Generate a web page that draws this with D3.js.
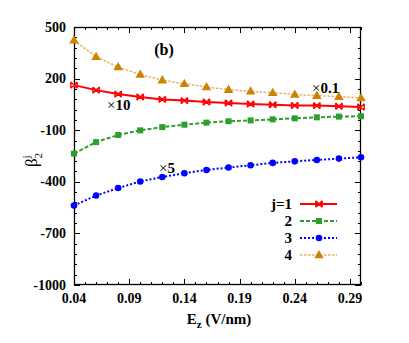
<!DOCTYPE html>
<html><head><meta charset="utf-8">
<script src="https://cdn.jsdelivr.net/npm/d3@7"></script>
<style>body{margin:0;background:#fff}svg{display:block}svg text{font-family:"Liberation Serif","DejaVu Serif",serif}</style>
</head><body>
<svg id="c" width="409" height="343"></svg>
<script>
const ezValues = [0.04,0.06,0.08,0.10,0.12,0.14,0.16,0.18,0.20,0.22,0.24,0.26,0.28,0.30];
const seriesJ1 = [162,133,110,93,79,72,64,58,52,48,44,43,39,35];
const seriesJ2 = [-236,-169,-128,-101,-82,-68,-56,-48,-43,-37,-31,-25,-21,-19];
const seriesJ3 = [-538,-480,-436,-398,-372,-350,-331,-317,-304,-290,-281,-273,-265,-257];
const seriesJ4 = [423,327,267,224,191,170,151,136,126,118,107,101,95,87];
const xTicks = [0.04,0.09,0.14,0.19,0.24,0.29];
const yTicks = [500,200,-100,-400,-700,-1000];
const legendLabels = ["j=1","2","3","4"];

const svg = d3.select("#c");
const L=74,R=361,T=27,B=285;
const x = d3.scaleLinear().domain([0.04,0.30]).range([L,R]);
const y = d3.scaleLinear().domain([-1000,500]).range([B,T]);

// ticks
const xMinor = d3.range(0.04,0.3001,0.01);
const yMinor = d3.range(-1000,500.1,60);
const g = svg.append("g").attr("stroke","#000").attr("stroke-width",1);
xMinor.forEach(v=>{
  const major = xTicks.some(t=>Math.abs(t-v)<1e-6);
  const len = major?6:3;
  const px = Math.round(x(v))+0.5;
  g.append("line").attr("x1",px).attr("x2",px).attr("y1",B).attr("y2",B-len);
  g.append("line").attr("x1",px).attr("x2",px).attr("y1",T).attr("y2",T+len);
});
yMinor.forEach(v=>{
  const major = yTicks.some(t=>Math.abs(t-v)<1e-6);
  const len = major?6:3;
  const py = Math.round(y(v))+0.5;
  g.append("line").attr("x1",L).attr("x2",L+len).attr("y1",py).attr("y2",py);
  g.append("line").attr("x1",R).attr("x2",R-len).attr("y1",py).attr("y2",py);
});
svg.append("rect").attr("x",L+0.5).attr("y",T+0.5).attr("width",R-L-1).attr("height",B-T-1)
  .attr("fill","none").attr("stroke","#000").attr("stroke-width",1.3);

// tick labels
svg.append("g").selectAll("text").data(xTicks).join("text")
  .attr("x",d=>x(d)).attr("y",B+18).attr("text-anchor","middle")
  .attr("font-weight","bold").attr("font-size",14).text(d=>d.toFixed(2));
svg.append("g").selectAll("text").data(yTicks).join("text")
  .attr("x",L-8).attr("y",d=>y(d)+4.5).attr("text-anchor","end")
  .attr("font-weight","bold").attr("font-size",14).text(d=>d);

// axis labels
const xl = svg.append("text").attr("x",219).attr("y",324).attr("text-anchor","middle")
  .attr("font-weight","bold").attr("font-size",15);
xl.append("tspan").text("E");
xl.append("tspan").attr("font-size",11).attr("dy",4).text("z");
xl.append("tspan").attr("dy",-4).text(" (V/nm)");
const yl = svg.append("text").attr("transform","translate(37,160) rotate(-90)").attr("text-anchor","middle")
  .attr("font-size",17);
yl.append("tspan").text("β");
yl.append("tspan").attr("font-size",11).attr("dy",-7).text("j");
yl.append("tspan").attr("font-size",11).attr("dx",-3).attr("dy",12).text("2");

// series
const series = [
  {vals:seriesJ1,color:"#ff0000",mcolor:"#ff0000",dash:null,w:2,marker:"x"},
  {vals:seriesJ2,color:"#2ca02c",mcolor:"#2ca02c",dash:"4,2",w:2,marker:"square"},
  {vals:seriesJ3,color:"#0000ff",mcolor:"#0000ff",dash:"2,2",w:2,marker:"circle"},
  {vals:seriesJ4,color:"#e8b060",mcolor:"#cc8400",dash:"2.5,1.5",w:1.5,marker:"triangle"}
];
const line = d3.line().x((d,i)=>x(ezValues[i])).y(d=>y(d));
function drawMarker(sel,type,cx,cy,color){
  if(type==="x"){
    const s=3.2;
    sel.append("path").attr("d",`M${cx-s},${cy-s}L${cx+s},${cy+s}M${cx-s},${cy+s}L${cx+s},${cy-s}M${cx-s},${cy-s}L${cx-s},${cy+s}M${cx+s},${cy-s}L${cx+s},${cy+s}`)
      .attr("stroke",color).attr("stroke-width",1.4).attr("fill","none");
  } else if(type==="square"){
    sel.append("rect").attr("x",cx-3).attr("y",cy-3).attr("width",6).attr("height",6).attr("fill",color);
  } else if(type==="circle"){
    sel.append("circle").attr("cx",cx).attr("cy",cy).attr("r",3.3).attr("fill",color);
  } else {
    sel.append("path").attr("d",d3.symbol(d3.symbolTriangle,40)()).attr("transform",`translate(${cx},${cy+0.5})`).attr("fill",color);
  }
}
series.forEach(s=>{
  svg.append("path").datum(s.vals).attr("d",line).attr("fill","none")
    .attr("stroke",s.color).attr("stroke-width",s.w).attr("stroke-dasharray",s.dash);
  const mg = svg.append("g");
  s.vals.forEach((v,i)=>drawMarker(mg,s.marker,x(ezValues[i]),y(v),s.mcolor));
});

// annotations
function ann(px,py,txt){
  const t = svg.append("text").attr("x",px).attr("y",py).attr("font-size",15);
  t.append("tspan").text("×");
  t.append("tspan").attr("font-weight","bold").text(txt);
}
ann(312,93,"0.1");
ann(107,110,"10");
ann(159,173,"5");
svg.append("text").attr("x",164).attr("y",55).attr("text-anchor","middle")
  .attr("font-weight","bold").attr("font-size",16).text("(b)");

// legend
const ly0 = 204, ldy = 17;
legendLabels.forEach((lab,i)=>{
  const s = series[i];
  const ly = ly0 + i*ldy;
  svg.append("text").attr("x",292).attr("y",ly+5).attr("text-anchor","end")
    .attr("font-weight","bold").attr("font-size",15).text(lab);
  svg.append("line").attr("x1",300).attr("x2",337).attr("y1",ly).attr("y2",ly)
    .attr("stroke",s.color).attr("stroke-width",s.w).attr("stroke-dasharray",s.dash);
  drawMarker(svg,s.marker,319,ly,s.mcolor);
});
</script>
</body></html>
